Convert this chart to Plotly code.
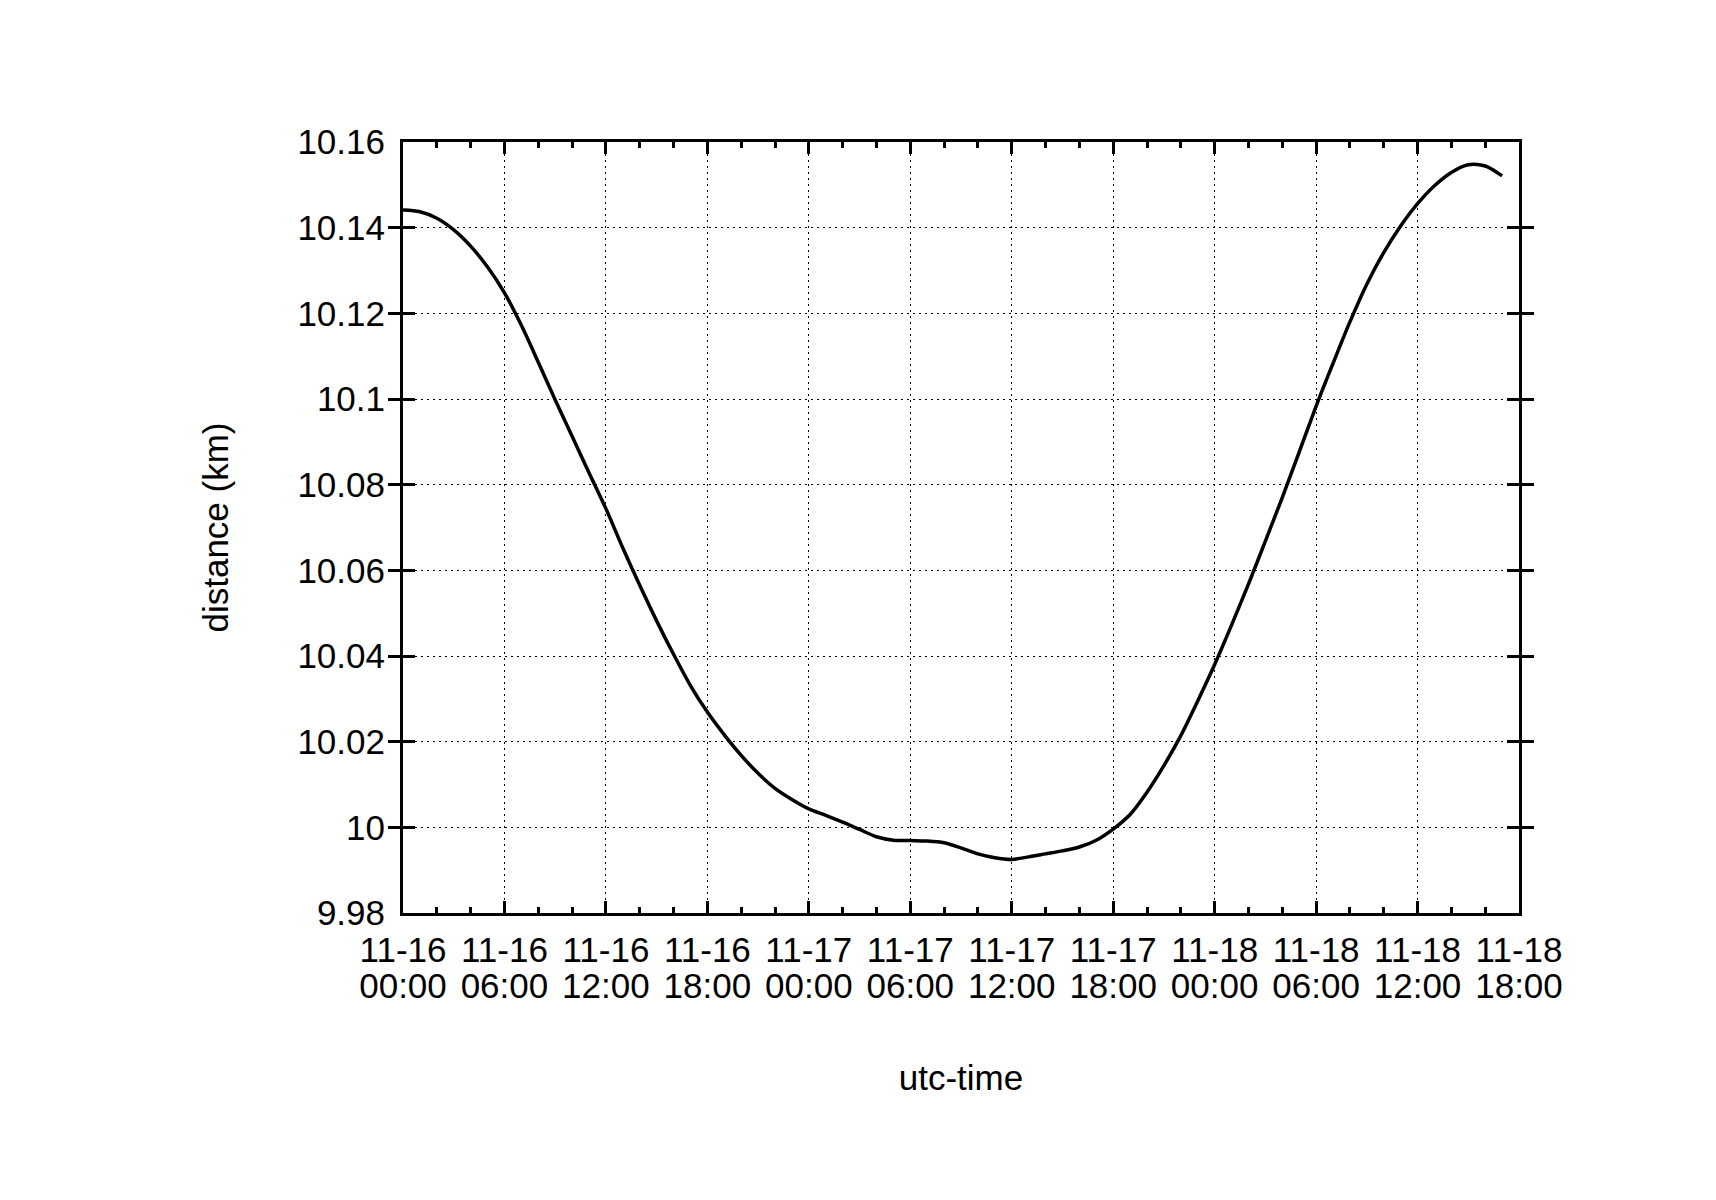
import plotly.graph_objects as go
import pandas as pd

# hours since 11-16 00:00 UTC
hours = list(range(0, 66))
distance_km = [
    10.1441, 10.1437, 10.1422, 10.1395, 10.1357, 10.1308, 10.1248, 10.1172,
    10.1086, 10.0998, 10.0913, 10.0828, 10.0744, 10.0652, 10.0565, 10.0482,
    10.0404, 10.0331, 10.0269, 10.0216, 10.0168, 10.0126, 10.0091, 10.0065,
    10.0043, 10.0028, 10.0012, 9.9995, 9.9978, 9.9970, 9.9969, 9.9968,
    9.9964, 9.9952, 9.9938, 9.9929, 9.9925, 9.9931, 9.9938, 9.9945,
    9.9954, 9.9970, 9.9996, 10.0030, 10.0082, 10.0144, 10.0214, 10.0295,
    10.0380, 10.0472, 10.0568, 10.0668, 10.0770, 10.0876, 10.0983, 10.1083,
    10.1180, 10.1268, 10.1342, 10.1404, 10.1456, 10.1498, 10.1529, 10.1547,
    10.1544, 10.1521,
]

x_tick_hours = [0, 6, 12, 18, 24, 30, 36, 42, 48, 54, 60, 66]
x_tick_dates = ["11-16", "11-16", "11-16", "11-16", "11-17", "11-17",
                "11-17", "11-17", "11-18", "11-18", "11-18", "11-18"]
x_tick_clock = ["00:00", "06:00", "12:00", "18:00", "00:00", "06:00",
                "12:00", "18:00", "00:00", "06:00", "12:00", "18:00"]
y_tick_vals = [9.98, 10.0, 10.02, 10.04, 10.06, 10.08, 10.1, 10.12, 10.14, 10.16]
y_tick_labels = ["9.98", "10", "10.02", "10.04", "10.06", "10.08", "10.1", "10.12", "10.14", "10.16"]

base = pd.Timestamp("2013-11-16 00:00:00")
times = [base + pd.Timedelta(hours=h) for h in hours]
tick_times = [base + pd.Timedelta(hours=h) for h in x_tick_hours]
x_range = [tick_times[0], tick_times[-1]]

FONT = "Liberation Sans, Arial, Helvetica, sans-serif"
FS = 35

fig = go.Figure()
fig.add_trace(go.Scatter(
    x=times, y=distance_km, mode="lines",
    line=dict(color="black", width=3.5, shape="spline", smoothing=0.8),
    showlegend=False, hoverinfo="skip",
))
# invisible companion on the second x axis (carries the second row of tick labels)
fig.add_trace(go.Scatter(
    x=times, y=distance_km, mode="lines", xaxis="x2", opacity=0,
    line=dict(color="black", width=1), showlegend=False, hoverinfo="skip",
))

fig.update_layout(
    width=1716, height=1200,
    margin=dict(l=403, r=197, t=142, b=287),
    paper_bgcolor="white", plot_bgcolor="white",
    font=dict(family=FONT, size=FS, color="black"),
    xaxis=dict(
        type="date", range=x_range, automargin=False,
        tickmode="array", tickvals=tick_times, ticktext=x_tick_dates,
        ticks="inside", ticklen=12, tickwidth=2.5, tickcolor="black",
        showline=True, linecolor="black", linewidth=3, mirror="allticks",
        showgrid=True, gridcolor="black", gridwidth=1, griddash="2px,4px",
        zeroline=False,
        minor=dict(tick0=tick_times[0], dtick=2 * 3600 * 1000, ticks="inside",
                   ticklen=6, tickwidth=2.5, tickcolor="black", showgrid=False),
        ticklabelstandoff=4,
        tickfont=dict(family=FONT, size=FS, color="black"),
    ),
    xaxis2=dict(
        type="date", range=x_range, overlaying="x", matches="x", anchor="y",
        side="bottom", automargin=False,
        tickmode="array", tickvals=tick_times, ticktext=x_tick_clock,
        ticks="", showline=False, showgrid=False, zeroline=False,
        ticklabelstandoff=49,
        tickfont=dict(family=FONT, size=FS, color="black"),
        title=dict(text="utc-time", font=dict(family=FONT, size=FS, color="black"), standoff=61),
    ),
    yaxis=dict(
        range=[9.98, 10.16], automargin=False,
        tickmode="array", tickvals=y_tick_vals, ticktext=y_tick_labels,
        ticks="inside", ticklen=12, tickwidth=2.5, tickcolor="black",
        showline=True, linecolor="black", linewidth=3, mirror="allticks",
        showgrid=True, gridcolor="black", gridwidth=1, griddash="2px,4px",
        zeroline=False,
        ticklabelstandoff=8,
        tickfont=dict(family=FONT, size=FS, color="black"),
        title=dict(text="distance (km)", font=dict(family=FONT, size=FS, color="black"), standoff=59),
    ),
)

fig.write_html("out.html")
